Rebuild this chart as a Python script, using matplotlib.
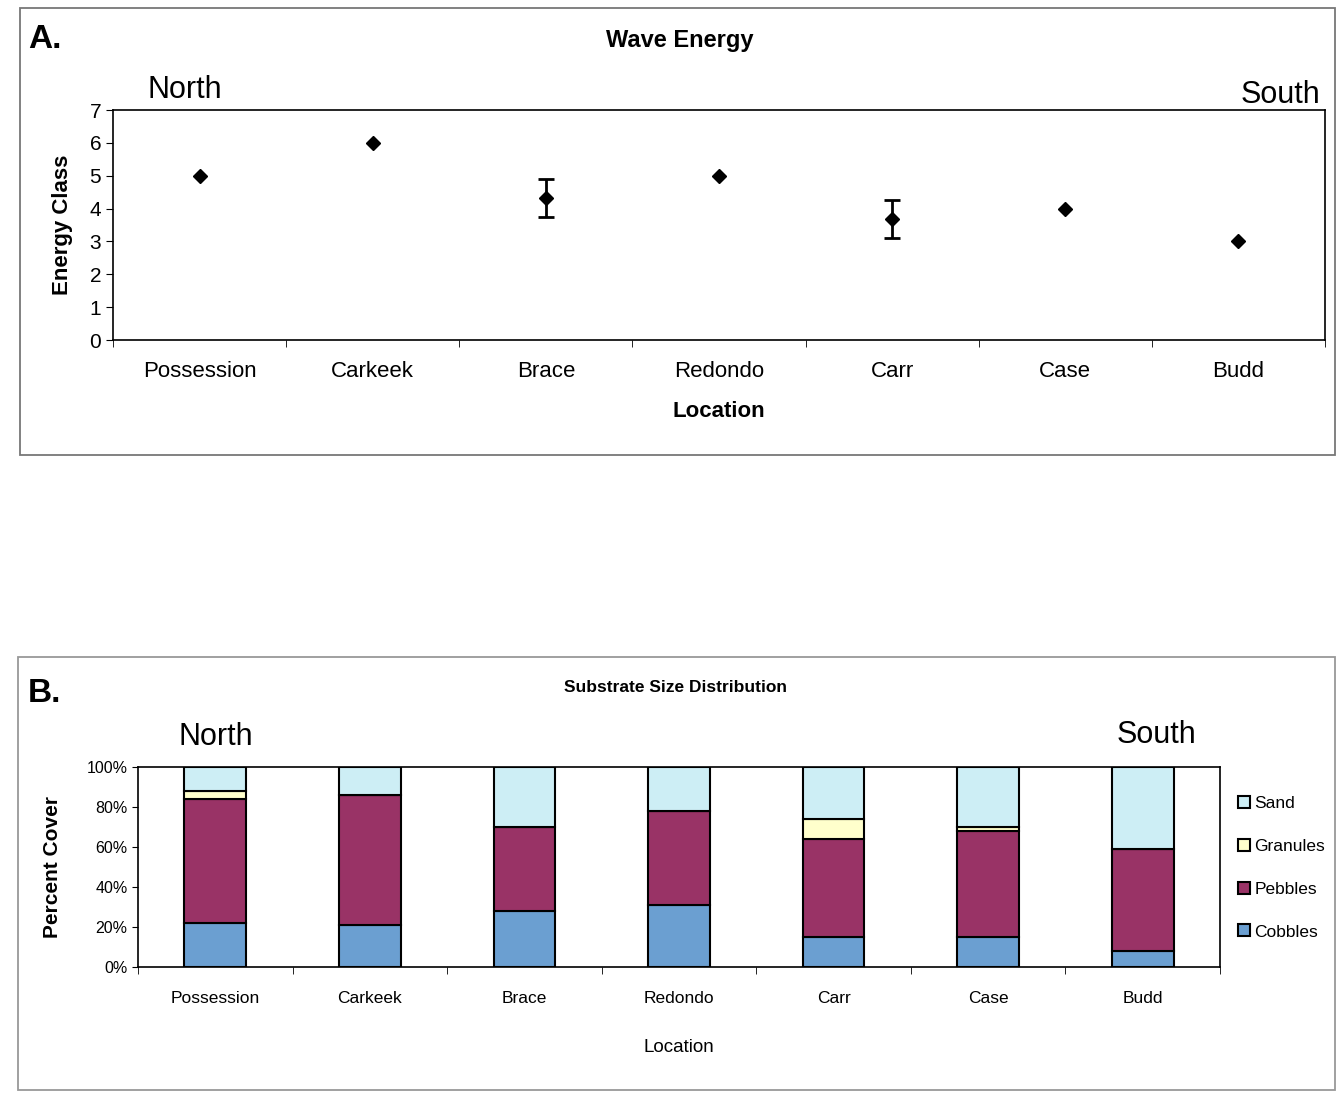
import matplotlib
matplotlib.use("Agg")
import matplotlib.pyplot as plt
from matplotlib.lines import Line2D
from matplotlib.patches import Rectangle
import numpy as np

W, H = 1339, 1095

locations = ["Possession", "Carkeek", "Brace", "Redondo", "Carr", "Case", "Budd"]

# panel A: wave energy class (mean, error)
energy = [5, 6, 4.33, 5, 3.67, 4, 3]
energy_err = [0, 0, 0.58, 0, 0.58, 0, 0]

# panel B: substrate percent cover
cobbles = [22, 21, 28, 31, 15, 15, 8]
pebbles = [62, 65, 42, 47, 49, 53, 51]
granules = [4, 0, 0, 0, 10, 2, 0]
sand = [12, 14, 30, 22, 26, 30, 41]

col_cobbles = "#6b9fd1"
col_pebbles = "#993366"
col_granules = "#ffffcc"
col_sand = "#cdeef5"

plt.rcParams['font.family'] = ['Liberation Sans', 'DejaVu Sans']


def px(x, y):
    return x / W, 1 - y / H


fig = plt.figure(figsize=(W / 100, H / 100), dpi=100)

# outer frames
fig.patches.append(Rectangle(px(20, 455), 1315 / W, 447 / H, transform=fig.transFigure,
                             fill=False, edgecolor="#777777", lw=1.3))
fig.patches.append(Rectangle(px(18, 1090), 1317 / W, 433 / H, transform=fig.transFigure,
                             fill=False, edgecolor="#999999", lw=1.3))

# ---------- Panel A ----------
axA = fig.add_axes([113 / W, 1 - 340 / H, 1212 / W, 230 / H])
x = np.arange(len(locations))
yerr = np.array(energy_err)
axA.errorbar(x, energy, yerr=np.where(yerr > 0, yerr, np.nan), fmt="D", color="black",
             markersize=7, capsize=6, elinewidth=2, capthick=2)
axA.set_xlim(-0.5, len(locations) - 0.5)
axA.set_ylim(0, 7)
axA.set_yticks(range(0, 8))
axA.tick_params(axis="y", labelsize=15, length=5, direction="out")
axA.set_xticks(x)
axA.set_xticklabels(locations, fontsize=16)
axA.tick_params(axis="x", length=0, pad=15)
axA.set_xticks(np.arange(-0.5, len(locations)), minor=True)
axA.tick_params(axis="x", which="minor", length=5, direction="out")
for s in axA.spines.values():
    s.set_linewidth(1.2)
axA.set_ylabel("Energy Class", fontsize=16, fontweight="bold", labelpad=12)
axA.set_xlabel("Location", fontsize=16, fontweight="bold", labelpad=14)

fig.text(*px(28, 40), "A.", fontsize=24, fontweight="bold", va="center", ha="left")
fig.text(*px(680, 40), "Wave Energy", fontsize=17, fontweight="bold", va="center", ha="center")
fig.text(*px(147, 90), "North", fontsize=22, va="center", ha="left")
fig.text(*px(1320, 95), "South", fontsize=22, va="center", ha="right")

# ---------- Panel B ----------
axB = fig.add_axes([138 / W, 1 - 967 / H, 1082 / W, 200 / H])
bw = 0.4
b1 = np.array(cobbles)
b2 = b1 + np.array(pebbles)
b3 = b2 + np.array(granules)
axB.bar(x, cobbles, bw, color=col_cobbles, edgecolor="black", lw=1.5)
axB.bar(x, pebbles, bw, bottom=b1, color=col_pebbles, edgecolor="black", lw=1.5)
axB.bar(x, granules, bw, bottom=b2, color=col_granules, edgecolor="black", lw=1.5)
axB.bar(x, sand, bw, bottom=b3, color=col_sand, edgecolor="black", lw=1.5)
axB.set_xlim(-0.5, len(locations) - 0.5)
axB.set_ylim(0, 100)
axB.set_yticks(range(0, 101, 20))
axB.set_yticklabels([f"{v}%" for v in range(0, 101, 20)], fontsize=11.5)
axB.tick_params(axis="y", length=4, direction="out")
axB.set_xticks(x)
axB.set_xticklabels(locations, fontsize=12.5)
axB.tick_params(axis="x", length=0, pad=17)
axB.set_xticks(np.arange(-0.5, len(locations)), minor=True)
axB.tick_params(axis="x", which="minor", length=5, direction="out")
for s in axB.spines.values():
    s.set_linewidth(1.2)
axB.set_ylabel("Percent Cover", fontsize=15, fontweight="bold", labelpad=18)
axB.set_xlabel("Location", fontsize=13.5, labelpad=24)

fig.text(*px(28, 693), "B.", fontsize=24, fontweight="bold", va="center", ha="left")
fig.text(*px(676, 688), "Substrate Size Distribution", fontsize=12.5,
         fontweight="bold", va="center", ha="center")
fig.text(*px(178, 737), "North", fontsize=22, va="center", ha="left")
fig.text(*px(1196, 735), "South", fontsize=22, va="center", ha="right")

handles = [Line2D([], [], marker="s", ls="", markersize=9, markerfacecolor=c,
                  markeredgecolor="black", markeredgewidth=1.5)
           for c in [col_sand, col_granules, col_pebbles, col_cobbles]]
fig.legend(handles, ["Sand", "Granules", "Pebbles", "Cobbles"], loc="upper left",
           bbox_to_anchor=px(1218, 780), frameon=False, handletextpad=0.0,
           handlelength=1.2, labelspacing=1.6, prop={"size": 12.5})

fig.savefig("out.png", dpi=100)
